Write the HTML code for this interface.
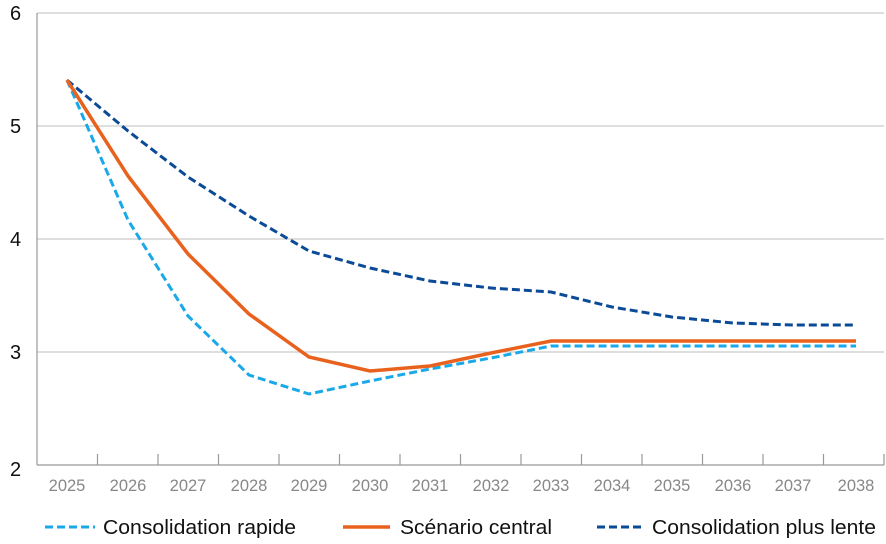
<!DOCTYPE html>
<html><head><meta charset="utf-8"><style>
body{margin:0;background:#fff;}
svg{display:block;font-family:"Liberation Sans",sans-serif;}
</style></head><body>
<svg width="886" height="544" viewBox="0 0 886 544">
<g stroke="#bdbdbd" stroke-width="1">
<line x1="37" y1="13" x2="884" y2="13"/>
<line x1="37" y1="126" x2="884" y2="126"/>
<line x1="37" y1="239" x2="884" y2="239"/>
<line x1="37" y1="352" x2="884" y2="352"/>
</g>
<g stroke="#999" stroke-width="1.2">
<line x1="37" y1="13" x2="37" y2="465"/>
<line x1="37" y1="465" x2="884" y2="465"/>
<line x1="97.5" y1="454" x2="97.5" y2="465"/><line x1="158" y1="454" x2="158" y2="465"/>
<line x1="218.5" y1="454" x2="218.5" y2="465"/><line x1="279" y1="454" x2="279" y2="465"/>
<line x1="339.5" y1="454" x2="339.5" y2="465"/><line x1="400" y1="454" x2="400" y2="465"/>
<line x1="460.5" y1="454" x2="460.5" y2="465"/><line x1="521" y1="454" x2="521" y2="465"/>
<line x1="581.5" y1="454" x2="581.5" y2="465"/><line x1="642" y1="454" x2="642" y2="465"/>
<line x1="702.5" y1="454" x2="702.5" y2="465"/><line x1="763" y1="454" x2="763" y2="465"/>
<line x1="823.5" y1="454" x2="823.5" y2="465"/><line x1="884" y1="454" x2="884" y2="465"/>
</g>
<g font-size="20" fill="#111">
<text x="10" y="20">6</text><text x="10" y="133">5</text><text x="10" y="246">4</text><text x="10" y="359">3</text><text x="10" y="476">2</text>
</g>
<g font-size="16.5" fill="#888" text-anchor="middle">
<text x="67" y="491">2025</text><text x="128" y="491">2026</text><text x="188" y="491">2027</text><text x="249" y="491">2028</text><text x="309" y="491">2029</text><text x="370" y="491">2030</text><text x="430" y="491">2031</text><text x="491" y="491">2032</text><text x="551" y="491">2033</text><text x="612" y="491">2034</text><text x="672" y="491">2035</text><text x="733" y="491">2036</text><text x="793" y="491">2037</text><text x="856" y="491">2038</text>
</g>
<polyline fill="none" stroke="#0a4a96" stroke-width="3" stroke-dasharray="8,4" points="67,80 128,131 188,177 249,216 309,251 370,268 430,281 491,288 551,292 612,307 672,317 733,323 793,325 856,325"/>
<polyline fill="none" stroke="#1aa9e8" stroke-width="3" stroke-dasharray="8,4" points="67,80 128,220 188,316 249,375 309,394 370,381 430,369 491,358 551,346 612,346 672,346 733,346 793,346 856,346"/>
<polyline fill="none" stroke="#e8621e" stroke-width="3.5" points="67,80 128,176 188,254 249,314 309,357 370,371 430,366 491,353 551,341 612,341 672,341 733,341 793,341 856,341"/>
<line x1="45" y1="527" x2="95" y2="527" stroke="#1aa9e8" stroke-width="3" stroke-dasharray="8,4"/>
<line x1="343" y1="527" x2="390" y2="527" stroke="#e8621e" stroke-width="3.5"/>
<line x1="597" y1="527" x2="642" y2="527" stroke="#0a4a96" stroke-width="3" stroke-dasharray="8,4"/>
<g font-size="20.5" fill="#111">
<text x="103" y="534" textLength="193" lengthAdjust="spacingAndGlyphs">Consolidation rapide</text>
<text x="400" y="534" textLength="152" lengthAdjust="spacingAndGlyphs">Scénario central</text>
<text x="652" y="534" textLength="224" lengthAdjust="spacingAndGlyphs">Consolidation plus lente</text>
</g>
</svg>
</body></html>
